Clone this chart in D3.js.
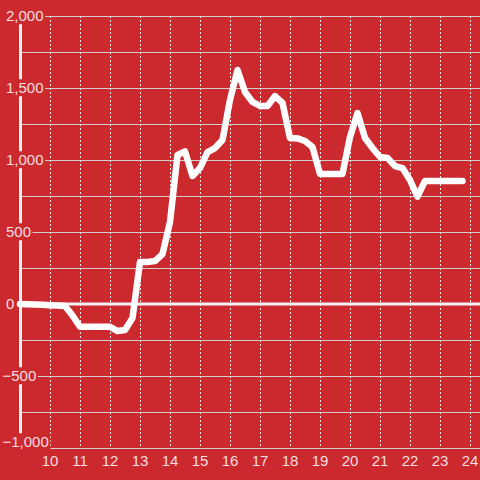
<!DOCTYPE html>
<html><head><meta charset="utf-8">
<script src="https://cdn.jsdelivr.net/npm/d3@7"></script>
<style>
html,body{margin:0;padding:0;background:#cc292e;}
svg{display:block;}
text{font-family:"Liberation Sans",Arial,sans-serif;}
</style></head>
<body>
<svg id="c" width="480" height="480"></svg>
<script>
const hours = [9,9.25,9.5,9.75,10,10.25,10.5,10.75,11,11.25,11.5,11.75,12,12.25,12.5,12.75,
  13,13.25,13.5,13.75,14,14.25,14.5,14.75,15,15.25,15.5,15.75,16,16.25,16.5,16.75,
  17,17.25,17.5,17.75,18,18.25,18.5,18.75,19,19.25,19.5,19.75,20,20.25,20.5,20.75,
  21,21.25,21.5,21.75,22,22.25,22.5,22.75,23,23.25,23.5,23.75];
const values = [0,-2,-4,-6,-8,-10,-14,-80,-158,-158,-158,-158,-158,-188,-180,-97,
  292,292,298,347,569,1035,1060,889,944,1055,1083,1139,1417,1625,1472,1403,
  1375,1375,1444,1396,1153,1150,1132,1090,903,903,903,903,1160,1326,1153,1083,
  1021,1014,958,944,861,745,854,854,854,854,854,854];
const xTicks = [10,11,12,13,14,15,16,17,18,19,20,21,22,23,24];
const yTicks = [-1000,-750,-500,-250,0,250,500,750,1000,1250,1500,1750,2000];
const yLabels = [-1000,-500,0,500,1000,1500,2000];

const bg = "#cc292e";
const svg = d3.select("#c");
const x = d3.scaleLinear().domain([9, 24]).range([20, 470]);
const y = d3.scaleLinear().domain([-1000, 2000]).range([448, 16]);
const fmt = d3.format(",");

// horizontal gridlines
svg.append("g").selectAll("line").data(yTicks).join("line")
  .attr("x1", 20).attr("x2", 480)
  .attr("y1", d => Math.round(y(d)) + 0.5).attr("y2", d => Math.round(y(d)) + 0.5)
  .attr("stroke", "#cfcfcf").attr("stroke-width", 1);

// vertical dotted gridlines
svg.append("g").selectAll("line").data(xTicks).join("line")
  .attr("x1", d => Math.round(x(d)) + 0.5).attr("x2", d => Math.round(x(d)) + 0.5)
  .attr("y1", y(2000)).attr("y2", y(-1000))
  .attr("stroke", "#e6e6e6").attr("stroke-width", 1).attr("stroke-dasharray", "2,2");

// zero line
svg.append("line").attr("x1", 20).attr("x2", 480)
  .attr("y1", y(0)).attr("y2", y(0))
  .attr("stroke", "#f2f2f2").attr("stroke-width", 3);

// y axis bar
svg.append("line").attr("x1", 20.5).attr("x2", 20.5)
  .attr("y1", y(2000)).attr("y2", y(-1000))
  .attr("stroke", "#f2f2f2").attr("stroke-width", 3);

// data line
const line = d3.line().x((d, i) => x(hours[i])).y(d => y(d));
svg.append("path").datum(values).attr("d", line)
  .attr("fill", "none").attr("stroke", "#ffffff").attr("stroke-width", 6.5)
  .attr("stroke-linejoin", "round").attr("stroke-linecap", "round");

// y labels with background boxes
const yl = svg.append("g").selectAll("g").data(yLabels).join("g");
yl.append("text")
  .attr("x", d => d < 0 ? 2.5 : 6)
  .attr("y", d => d === -1000 ? y(d) - 6 : y(d))
  .attr("dy", "0.35em")
  .attr("font-size", 15)
  .attr("fill", "#f6dfe0")
  .text(d => fmt(d));
yl.each(function() {
  const g = d3.select(this);
  const b = g.select("text").node().getBBox();
  g.insert("rect", "text")
    .attr("x", b.x - 2).attr("y", b.y)
    .attr("width", b.width + 3.5).attr("height", b.height)
    .attr("fill", bg);
});

// x labels
svg.append("g").selectAll("text").data(xTicks).join("text")
  .attr("x", d => x(d)).attr("y", 461).attr("dy", "0.35em")
  .attr("text-anchor", "middle").attr("font-size", 15)
  .attr("fill", "#f6dfe0")
  .text(d => d);
</script>
</body></html>
